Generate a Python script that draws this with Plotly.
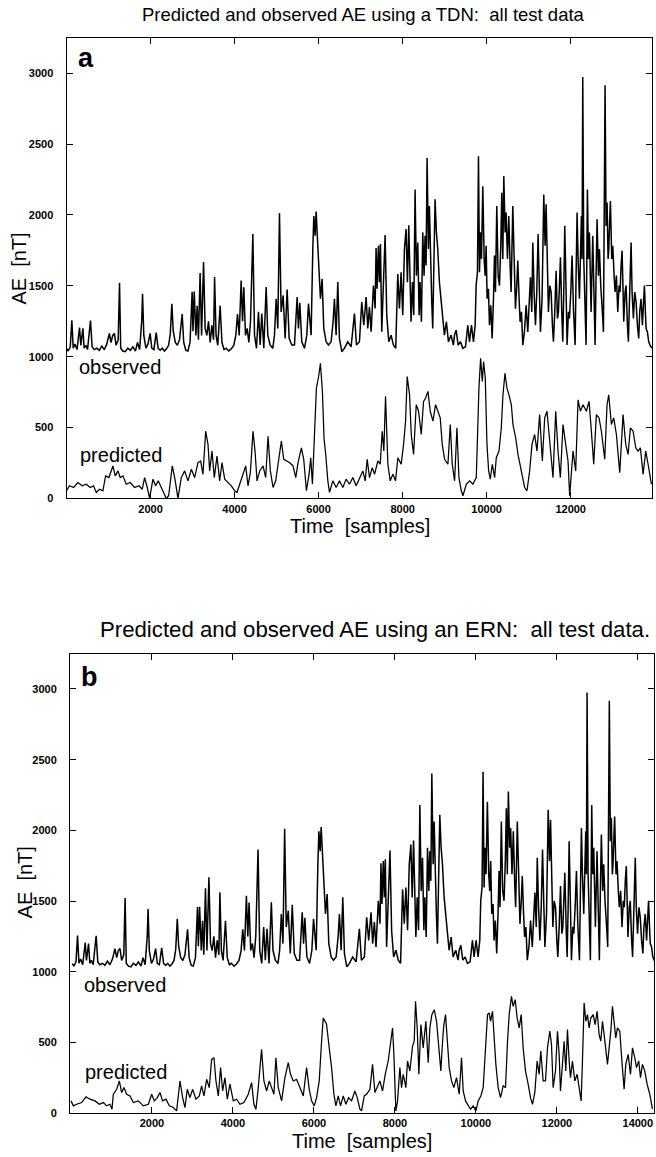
import plotly.graph_objects as go

# ---------------- data ----------------
# Observed AE [nT], sample index on the TDN (panel a) time axis
T_OBS = [0, 40, 90, 127, 160, 200, 250, 310, 340, 390, 420, 460, 500, 571, 610, 660, 720, 780, 840, 900,
         960, 1020, 1060, 1100, 1140, 1180, 1230, 1262, 1290, 1340, 1400, 1460, 1520, 1580, 1640, 1690, 1740, 1790, 1810, 1840,
         1890, 1940, 1990, 2030, 2080, 2135, 2180, 2230, 2280, 2330, 2380, 2430, 2470, 2507, 2540, 2590, 2640, 2690, 2753, 2790,
         2840, 2890, 2940, 2990, 3010, 3040, 3080, 3110, 3140, 3180, 3215, 3262, 3300, 3340, 3380, 3420, 3460, 3500, 3524, 3560,
         3600, 3657, 3700, 3750, 3800, 3860, 3920, 3980, 4030, 4070, 4110, 4157, 4190, 4220, 4260, 4300, 4340, 4380, 4435, 4475,
         4522, 4569, 4609, 4648, 4696, 4752, 4791, 4847, 4910, 4950, 4990, 5029, 5069, 5108, 5156, 5204, 5251, 5299, 5362, 5426,
         5489, 5521, 5552, 5600, 5664, 5719, 5759, 5822, 5862, 5886, 5917, 5941, 5981, 6020, 6044, 6084, 6123, 6179, 6234, 6298,
         6345, 6377, 6417, 6457, 6496, 6552, 6615, 6694, 6774, 6853, 6901, 6972, 7027, 7075, 7131, 7170, 7210, 7250, 7305, 7345,
         7368, 7392, 7424, 7448, 7472, 7503, 7543, 7583, 7622, 7670, 7725, 7781, 7836, 7884, 7924, 7963, 8003, 8043, 8082, 8114,
         8146, 8177, 8201, 8233, 8265, 8296, 8328, 8360, 8392, 8415, 8447, 8479, 8510, 8534, 8558, 8582, 8613, 8637, 8669, 8693,
         8716, 8748, 8772, 8804, 8836, 8875, 8915, 8955, 8994, 9042, 9090, 9153, 9208, 9234, 9274, 9321, 9377, 9432, 9496, 9551,
         9591, 9638, 9686, 9726, 9749, 9781, 9805, 9829, 9852, 9876, 9908, 9940, 9964, 9987, 10011, 10043, 10067, 10098, 10130, 10162,
         10186, 10209, 10241, 10273, 10305, 10336, 10360, 10384, 10408, 10439, 10463, 10495, 10527, 10558, 10582, 10622, 10653, 10685, 10717, 10741,
         10772, 10796, 10828, 10860, 10899, 10939, 10979, 11018, 11042, 11074, 11098, 11129, 11161, 11193, 11224, 11256, 11280, 11319, 11359, 11391,
         11415, 11446, 11470, 11502, 11534, 11565, 11589, 11621, 11653, 11684, 11708, 11732, 11756, 11787, 11811, 11835, 11859, 11891, 11914, 11946,
         11970, 12002, 12033, 12065, 12105, 12128, 12152, 12176, 12208, 12231, 12255, 12271, 12287, 12311, 12327, 12350, 12366, 12398, 12422, 12446,
         12469, 12485, 12525, 12549, 12580, 12604, 12628, 12660, 12684, 12715, 12739, 12763, 12779, 12802, 12818, 12842, 12866, 12890, 12906, 12929,
         12945, 12977, 13001, 13033, 13056, 13088, 13120, 13151, 13175, 13199, 13223, 13247, 13262, 13294, 13318, 13350, 13373, 13405, 13437, 13461,
         13492, 13524, 13556, 13588, 13619, 13643, 13675, 13707, 13730, 13754, 13778, 13794, 13826, 13857, 13889, 13930]
AE_OBS = [58, 40, 70, 257, 60, 90, 50, 206, 80, 200, 60, 80, 50, 255, 70, 50, 60, 45, 75, 50,
          90, 164, 100, 150, 164, 80, 120, 521, 60, 40, 35, 60, 45, 70, 40, 100, 50, 250, 444, 150,
          60, 90, 164, 60, 50, 170, 60, 45, 60, 40, 55, 80, 160, 374, 180, 100, 80, 120, 300, 100,
          45, 40, 100, 458, 180, 460, 150, 360, 120, 591, 150, 668, 200, 150, 250, 100, 222, 120, 563, 150,
          80, 360, 100, 50, 60, 40, 55, 80, 150, 300, 150, 537, 250, 490, 150, 200, 100, 250, 865, 152,
          59, 316, 82, 304, 59, 491, 152, 82, 59, 152, 409, 199, 1012, 316, 432, 129, 474, 129, 82, 82,
          421, 199, 381, 105, 59, 152, 374, 152, 760, 993, 853, 1024, 783, 526, 409, 549, 199, 105, 82, 105,
          246, 409, 152, 526, 129, 35, 59, 105, 70, 304, 82, 105, 386, 222, 421, 199, 351, 176, 502, 340,
          767, 479, 783, 526, 795, 176, 456, 858, 293, 105, 152, 82, 59, 584, 340, 596, 293, 760, 900, 526,
          928, 409, 246, 526, 293, 1180, 572, 806, 293, 526, 246, 877, 572, 853, 643, 1402, 760, 1063, 572, 386,
          199, 643, 1110, 877, 760, 526, 409, 246, 152, 246, 105, 152, 82, 152, 187, 82, 105, 59, 70, 222,
          105, 222, 105, 222, 502, 596, 1414, 596, 877, 689, 1203, 689, 572, 783, 409, 479, 222, 362, 129, 409,
          713, 456, 1063, 572, 502, 783, 1157, 689, 1274, 877, 1017, 689, 993, 643, 456, 1063, 572, 339, 502, 678,
          409, 246, 316, 82, 175, 362, 175, 456, 561, 316, 806, 456, 222, 456, 865, 456, 175, 409, 1145, 783,
          1075, 643, 316, 502, 456, 222, 105, 316, 607, 269, 316, 502, 701, 316, 105, 456, 923, 456, 82, 316,
          269, 456, 713, 339, 82, 572, 1017, 689, 409, 689, 993, 689, 1974, 689, 502, 269, 82, 1180, 689, 877,
          502, 316, 853, 456, 82, 572, 970, 572, 760, 502, 409, 269, 175, 923, 1916, 923, 1087, 689, 760, 970,
          1098, 689, 783, 572, 456, 572, 316, 502, 456, 643, 748, 456, 246, 456, 502, 222, 105, 456, 806, 456,
          269, 456, 386, 222, 129, 316, 409, 222, 409, 502, 316, 199, 175, 105, 82, 60]

# Predicted AE [nT], TDN (panel a)
T_PRED_TDN = [0, 72, 168, 271, 374, 469, 565, 644, 708, 787, 866, 930, 1009, 1105, 1160, 1224, 1279, 1343, 1422, 1517,
              1621, 1724, 1803, 1859, 1922, 1978, 2057, 2121, 2184, 2256, 2311, 2375, 2431, 2518, 2581, 2653, 2732, 2812, 2891, 2971,
              3050, 3129, 3193, 3248, 3312, 3368, 3407, 3463, 3518, 3582, 3645, 3701, 3765, 3844, 3923, 4003, 4058, 4122, 4201, 4265,
              4320, 4376, 4439, 4487, 4535, 4598, 4678, 4741, 4797, 4852, 4916, 4979, 5035, 5114, 5170, 5233, 5313, 5392, 5456, 5511,
              5591, 5646, 5710, 5773, 5813, 5853, 5908, 5948, 6000, 6043, 6090, 6130, 6170, 6220, 6260, 6339, 6418, 6497, 6577, 6656,
              6736, 6815, 6894, 6974, 7053, 7109, 7156, 7212, 7276, 7331, 7411, 7466, 7514, 7553, 7593, 7649, 7704, 7768, 7831, 7887,
              7966, 8022, 8070, 8109, 8165, 8205, 8260, 8324, 8379, 8443, 8498, 8546, 8602, 8657, 8721, 8784, 8840, 8895, 8943, 8999,
              9078, 9134, 9181, 9237, 9292, 9340, 9396, 9435, 9515, 9594, 9673, 9753, 9816, 9856, 9896, 9927, 9967, 10007, 10047, 10086,
              10134, 10190, 10229, 10293, 10348, 10388, 10436, 10483, 10531, 10587, 10626, 10690, 10745, 10825, 10904, 10960, 11023, 11079, 11142, 11198,
              11261, 11325, 11381, 11436, 11500, 11579, 11643, 11698, 11754, 11817, 11881, 11936, 11976, 12055, 12119, 12175, 12230, 12294, 12373, 12437,
              12492, 12548, 12611, 12675, 12730, 12810, 12865, 12905, 12969, 13024, 13088, 13167, 13246, 13310, 13366, 13421, 13485, 13548, 13604, 13659,
              13723, 13786, 13842, 13921]
AE_PRED_TDN = [54, 89, 77, 112, 89, 100, 77, 89, 42, 65, 54, 159, 147, 229, 159, 194, 147, 159, 100, 112,
               77, 89, 65, 147, 77, 0, 136, 89, 124, 77, 42, 0, 19, 229, 136, 0, 147, 194, 124, 206,
               147, 252, 264, 170, 474, 381, 194, 334, 147, 299, 124, 252, 136, 112, 89, 54, 42, 100, 170, 229,
               89, 182, 474, 334, 124, 194, 229, 147, 439, 194, 77, 124, 241, 404, 276, 264, 252, 229, 147, 252,
               357, 276, 54, 170, 287, 100, 568, 778, 860, 953, 760, 420, 310, 124, 42, 124, 77, 124, 77, 136,
               100, 147, 89, 147, 194, 124, 276, 147, 217, 170, 264, 241, 474, 334, 720, 241, 124, 170, 124, 287,
               241, 381, 545, 860, 731, 451, 311, 661, 615, 451, 685, 708, 755, 615, 545, 661, 615, 568, 381, 276,
               241, 521, 241, 124, 498, 147, 54, 19, 100, 124, 100, 147, 778, 988, 825, 965, 848, 381, 194, 136,
               241, 147, 287, 334, 498, 731, 883, 778, 731, 661, 521, 428, 311, 194, 77, 54, 194, 381, 451, 334,
               591, 264, 568, 615, 428, 147, 615, 334, 147, 521, 381, 264, 19, 334, 194, 696, 615, 661, 615, 685,
               474, 241, 591, 568, 474, 276, 661, 731, 521, 568, 451, 182, 591, 381, 311, 498, 474, 357, 334, 357,
               170, 334, 241, 100]

# Predicted AE [nT], ERN (panel b), on the ERN time axis
T_PRED_ERN = [0, 58, 140, 263, 370, 469, 593, 700, 798, 880, 963, 1012, 1045, 1128, 1193, 1251, 1308, 1374, 1457, 1539,
              1663, 1786, 1910, 1992, 2058, 2132, 2197, 2263, 2345, 2428, 2527, 2609, 2691, 2757, 2815, 2872, 2938, 3004, 3086, 3169,
              3226, 3284, 3350, 3415, 3473, 3531, 3580, 3638, 3695, 3745, 3802, 3860, 3926, 4008, 4090, 4173, 4271, 4378, 4461, 4518,
              4568, 4625, 4707, 4765, 4831, 4897, 4954, 5012, 5061, 5119, 5201, 5284, 5366, 5423, 5489, 5572, 5654, 5736, 5819, 5884,
              5942, 6008, 6066, 6131, 6189, 6230, 6296, 6313, 6378, 6436, 6494, 6543, 6601, 6658, 6724, 6790, 6856, 6930, 7012, 7070,
              7136, 7177, 7243, 7300, 7383, 7448, 7506, 7563, 7629, 7695, 7761, 7835, 7893, 7942, 7975, 8024, 8066, 8123, 8164, 8206,
              8271, 8312, 8370, 8436, 8477, 8510, 8551, 8592, 8642, 8699, 8765, 8823, 8864, 8913, 8971, 9029, 9086, 9135, 9177, 9210,
              9251, 9292, 9341, 9399, 9456, 9522, 9588, 9646, 9687, 9745, 9810, 9868, 9934, 10000, 10057, 10123, 10181, 10238, 10288, 10329,
              10362, 10411, 10452, 10494, 10551, 10609, 10675, 10732, 10782, 10823, 10880, 10921, 10971, 11020, 11070, 11119, 11168, 11226, 11292, 11349,
              11399, 11456, 11514, 11563, 11604, 11662, 11720, 11769, 11827, 11868, 11909, 11967, 12016, 12057, 12090, 12139, 12180, 12222, 12263, 12304,
              12337, 12386, 12444, 12502, 12551, 12600, 12633, 12674, 12716, 12757, 12798, 12839, 12897, 12946, 12995, 13045, 13086, 13127, 13168, 13209,
              13251, 13292, 13333, 13374, 13415, 13456, 13497, 13555, 13613, 13662, 13703, 13761, 13819, 13868, 13926, 13967, 14024, 14066, 14115, 14172,
              14230, 14296, 14362]
AE_PRED_ERN = [87, 52, 63, 75, 115, 99, 87, 63, 75, 52, 63, 28, 134, 169, 228, 146, 181, 134, 122, 75,
               87, 52, 63, 134, 87, 110, 146, 87, 99, 52, 40, 16, 228, 110, 40, 169, 110, 169, 99, 122,
               193, 122, 240, 181, 380, 392, 228, 122, 322, 157, 251, 99, 205, 87, 99, 63, 75, 134, 216, 63,
               28, 181, 451, 228, 157, 228, 181, 134, 392, 181, 87, 251, 357, 275, 228, 240, 181, 122, 322, 169,
               87, 52, 110, 228, 509, 673, 640, 627, 462, 322, 134, 52, 122, 52, 122, 63, 110, 87, 157, 110,
               28, 16, 122, 134, 169, 345, 146, 181, 228, 157, 275, 369, 486, 603, 416, 16, 87, 322, 181, 275,
               181, 369, 298, 474, 509, 791, 603, 275, 627, 462, 650, 357, 603, 697, 732, 650, 462, 298, 509, 627,
               697, 509, 322, 228, 181, 251, 134, 392, 157, 87, 52, 28, 52, 16, 87, 122, 181, 416, 697, 709,
               650, 720, 509, 345, 181, 110, 193, 181, 509, 697, 826, 756, 803, 673, 603, 697, 462, 298, 205, 110,
               63, 146, 369, 275, 439, 228, 228, 462, 580, 486, 181, 298, 580, 416, 157, 392, 509, 298, 591, 369,
               251, 369, 228, 275, 181, 87, 369, 779, 650, 697, 603, 673, 697, 627, 720, 556, 509, 650, 556, 462,
               345, 462, 580, 756, 627, 533, 603, 580, 345, 169, 345, 416, 275, 462, 392, 322, 369, 251, 345, 298,
               205, 134, 28]

OBS_OFFSET = 1000           # observed curve is drawn shifted up by 1000 nT
ERN_TIME_SCALE = 1.035      # same observed record, drawn on the longer ERN sample axis
ERN_TIME_SHIFT = 30

Y_TICKS = [0, 500, 1000, 1500, 2000, 2500, 3000]
X_TICKS_A = [2000, 4000, 6000, 8000, 10000, 12000]
X_TICKS_B = [2000, 4000, 6000, 8000, 10000, 12000, 14000]

TITLE_A = "Predicted and observed AE using a TDN:  all test data"
TITLE_B = "Predicted and observed AE using an ERN:  all test data."

# ---------------- figure ----------------
W, H = 656, 1157
FONT = "Liberation Sans, Arial, Helvetica, sans-serif"


def px(x):
    return x / W


def py(y):
    return 1 - y / H


obs_line = dict(color="black", width=1.5)
pred_line = dict(color="black", width=1.25)
obs_a = [v + OBS_OFFSET for v in AE_OBS]
t_obs_b = [t * ERN_TIME_SCALE + ERN_TIME_SHIFT for t in T_OBS]

fig = go.Figure()
fig.add_trace(go.Scatter(x=T_OBS, y=obs_a, mode="lines", line=obs_line, xaxis="x", yaxis="y", hoverinfo="skip"))
fig.add_trace(go.Scatter(x=T_PRED_TDN, y=AE_PRED_TDN, mode="lines", line=pred_line, xaxis="x", yaxis="y", hoverinfo="skip"))
fig.add_trace(go.Scatter(x=t_obs_b, y=obs_a, mode="lines", line=obs_line, xaxis="x2", yaxis="y2", hoverinfo="skip"))
fig.add_trace(go.Scatter(x=T_PRED_ERN, y=AE_PRED_ERN, mode="lines", line=pred_line, xaxis="x2", yaxis="y2", hoverinfo="skip"))

axis_common = dict(showline=True, linecolor="black", linewidth=1, mirror="ticks", ticks="inside",
                   ticklen=6, tickwidth=1, tickcolor="black", showgrid=False, zeroline=False,
                   tickfont=dict(family=FONT, size=11, color="black", weight="bold"))

fig.update_layout(
    width=W, height=H, margin=dict(l=0, r=0, t=0, b=0),
    paper_bgcolor="white", plot_bgcolor="white", showlegend=False,
    xaxis=dict(domain=[px(66.5), px(652)], range=[0, 13935], tickvals=X_TICKS_A,
               ticktext=[str(v) for v in X_TICKS_A], anchor="y", **axis_common),
    yaxis=dict(domain=[py(501), py(38)], range=[0, 3250], tickvals=Y_TICKS,
               ticktext=[str(v) for v in Y_TICKS], anchor="x", ticklabelstandoff=10, **axis_common),
    xaxis2=dict(domain=[px(70), px(654)], range=[-25, 14400], tickvals=X_TICKS_B,
                ticktext=[str(v) for v in X_TICKS_B], anchor="y2", **axis_common),
    yaxis2=dict(domain=[py(1119), py(657)], range=[0, 3250], tickvals=Y_TICKS,
                ticktext=[str(v) for v in Y_TICKS], anchor="x2", ticklabelstandoff=10, **axis_common),
)


def txt(text, x, y, size, bold=False, angle=0, xanchor="center"):
    fig.add_annotation(text=f"<b>{text}</b>" if bold else text, x=px(x), y=py(y), xref="paper", yref="paper",
                       showarrow=False, xanchor=xanchor, yanchor="middle", textangle=angle,
                       font=dict(family=FONT, size=size, color="black"))


txt(TITLE_A, 363, 15, 18.5)
txt(TITLE_B, 375, 633, 22.2)
txt("a", 76, 58, 27, bold=True, xanchor="left")
txt("b", 79, 681, 27, bold=True, xanchor="left")
txt("observed", 77, 369, 20, xanchor="left")
txt("predicted", 78, 457, 20, xanchor="left")
txt("observed", 82, 990, 20, xanchor="left")
txt("predicted", 83, 1078, 20, xanchor="left")
txt("Time  [samples]", 360, 529, 20)
txt("Time  [samples]", 362, 1147, 20)
txt("AE  [nT]", 19, 270, 20, angle=-90)
txt("AE  [nT]", 25, 887, 20, angle=-90)

# the page's default 8px body margin would shift the whole figure; remove it
fig.write_html("out.html", config={"displayModeBar": False},
               post_script="document.body.style.margin='0';")
